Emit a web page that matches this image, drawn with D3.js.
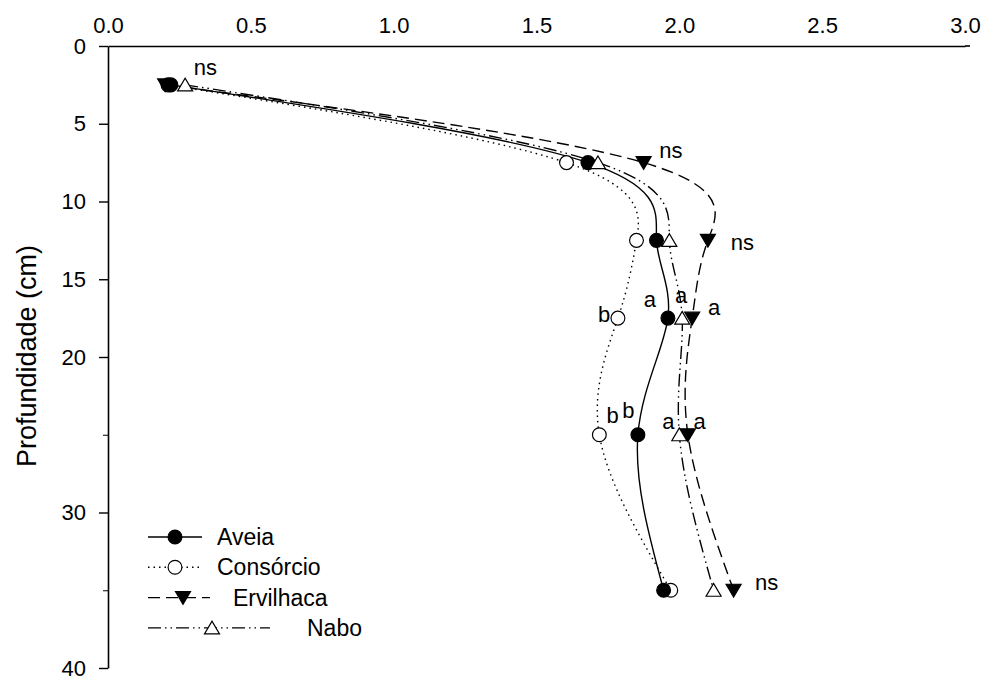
<!DOCTYPE html>
<html>
<head>
<meta charset="utf-8">
<script src="https://cdn.jsdelivr.net/npm/d3@7"></script>
<style>
  body { margin: 0; background: #fff; }
  text { font-family: "Liberation Sans", Arial, sans-serif; fill: #000; }
</style>
</head>
<body>
<div id="chart"></div>
<script>
// depths (cm) where samples were taken
var depths = [2.5, 7.5, 12.5, 17.5, 25, 35];

// values for each treatment
var aveia     = [0.22, 1.68, 1.92, 1.96, 1.855, 1.945];
var consorcio = [0.21, 1.605, 1.85, 1.785, 1.72, 1.97];
var ervilhaca = [0.20, 1.875, 2.10, 2.045, 2.03, 2.19];
var nabo      = [0.27, 1.715, 1.965, 2.01, 2.00, 2.12];

var xTicks = [0, 0.5, 1.0, 1.5, 2.0, 2.5, 3.0];
var yTicks = [0, 5, 10, 15, 20, 30, 40];
var yMinor = [25, 35];

// significance letters: text, x value (left edge), depth (baseline)
var letters = [
  ["ns", 0.30, 1.85],
  ["ns", 1.93, 7.2],
  ["ns", 2.18, 13.1],
  ["b", 1.715, 17.75], ["a", 1.875, 16.8], ["a", 1.985, 16.5], ["a", 2.10, 17.3],
  ["b", 1.745, 24.25], ["b", 1.80, 23.9], ["a", 1.94, 24.6], ["a", 2.05, 24.6],
  ["ns", 2.265, 35.0]
];

var series = [
  {name: "Consórcio", values: consorcio, dash: "1.5,4", symbol: "circle", fill: "#fff"},
  {name: "Ervilhaca", values: ervilhaca, dash: "12,6", symbol: "down", fill: "#000"},
  {name: "Aveia", values: aveia, dash: null, symbol: "circle", fill: "#000"},
  {name: "Nabo", values: nabo, dash: "13,4,1.5,4,1.5,4", symbol: "up", fill: "#fff"}
];

var W = 988, H = 677;
var x = d3.scaleLinear().domain([0, 3]).range([108, 965]);
var y = d3.scaleLinear().domain([0, 40]).range([46, 668]);

var svg = d3.select("#chart").append("svg")
    .attr("width", W)
    .attr("height", H);

// x axis on top
var xAxis = svg.append("g")
    .attr("transform", "translate(0," + y(0) + ")")
    .call(d3.axisTop(x).tickValues(xTicks).tickFormat(d3.format(".1f"))
      .tickSize(0).tickPadding(13));
xAxis.select(".domain").attr("stroke-width", 1.6);
xAxis.selectAll("text").style("font-size", "22px");
svg.append("line")
    .attr("x1", x(3)).attr("x2", 970)
    .attr("y1", y(0)).attr("y2", y(0))
    .attr("stroke", "#000").attr("stroke-width", 1.6);

// y axis
var yAxis = svg.append("g")
    .attr("transform", "translate(" + x(0) + ",0)")
    .call(d3.axisLeft(y).tickValues(yTicks).tickSize(9).tickSizeOuter(0).tickPadding(13));
yAxis.select(".domain").attr("stroke-width", 1.6);
yAxis.selectAll(".tick line").attr("stroke-width", 1.4);
yAxis.selectAll("text").style("font-size", "22px");

svg.append("g")
    .attr("transform", "translate(" + x(0) + ",0)")
    .call(d3.axisLeft(y).tickValues(yMinor).tickSize(5).tickFormat(""))
    .call(function(g) { g.select(".domain").remove(); });

svg.append("text")
    .attr("transform", "translate(36,356) rotate(-90)")
    .attr("text-anchor", "middle")
    .style("font-size", "27px")
    .text("Profundidade (cm)");

var line = d3.line()
    .x(function(d) { return x(d[0]); })
    .y(function(d) { return y(d[1]); })
    .curve(d3.curveNatural);

function symbolPath(type) {
  if (type === "circle") return d3.symbol().type(d3.symbolCircle).size(150)();
  var s = 7.5;
  if (type === "down") return "M" + (-s) + "," + (-s * 0.8) + "L" + s + "," + (-s * 0.8) + "L0," + (s * 0.9) + "Z";
  return "M" + (-s) + "," + (s * 0.8) + "L" + s + "," + (s * 0.8) + "L0," + (-s * 0.9) + "Z";
}

series.forEach(function(s) {
  var pts = s.values.map(function(v, i) { return [v, depths[i]]; });
  svg.append("path")
      .datum(pts)
      .attr("d", line)
      .attr("fill", "none")
      .attr("stroke", "#000")
      .attr("stroke-width", 1.4)
      .attr("stroke-dasharray", s.dash);
});

series.forEach(function(s) {
  var pts = s.values.map(function(v, i) { return [v, depths[i]]; });
  svg.append("g").selectAll("path")
      .data(pts)
      .enter().append("path")
      .attr("transform", function(d) { return "translate(" + x(d[0]) + "," + y(d[1]) + ")"; })
      .attr("d", symbolPath(s.symbol))
      .attr("fill", s.fill)
      .attr("stroke", "#000")
      .attr("stroke-width", 1.2);
});

// letters
svg.append("g").selectAll("text")
    .data(letters)
    .enter().append("text")
    .attr("x", function(d) { return x(d[1]); })
    .attr("y", function(d) { return y(d[2]); })
    .style("font-size", "22px")
    .text(function(d) { return d[0]; });

// legend
var legend = [
  {name: "Aveia", dash: null, symbol: "circle", fill: "#000", x2: 202, mx: 175, tx: 217},
  {name: "Consórcio", dash: "1.5,4", symbol: "circle", fill: "#fff", x2: 200, mx: 175, tx: 217},
  {name: "Ervilhaca", dash: "12,6", symbol: "down", fill: "#000", x2: 210, mx: 183, tx: 233},
  {name: "Nabo", dash: "13,4,1.5,4,1.5,4", symbol: "up", fill: "#fff", x2: 270, mx: 212, tx: 307}
];
var lg = svg.append("g").selectAll("g")
    .data(legend)
    .enter().append("g")
    .attr("transform", function(d, i) { return "translate(0," + (537 + i * 30.3) + ")"; });
lg.append("line")
    .attr("x1", 148).attr("x2", function(d) { return d.x2; })
    .attr("stroke", "#000").attr("stroke-width", 1.4)
    .attr("stroke-dasharray", function(d) { return d.dash; });
lg.append("path")
    .attr("transform", function(d) { return "translate(" + d.mx + ",0)"; })
    .attr("d", function(d) { return symbolPath(d.symbol); })
    .attr("fill", function(d) { return d.fill; })
    .attr("stroke", "#000").attr("stroke-width", 1.2);
lg.append("text")
    .attr("x", function(d) { return d.tx; })
    .attr("dy", "0.35em")
    .style("font-size", "23px")
    .text(function(d) { return d.name; });
</script>
</body>
</html>
